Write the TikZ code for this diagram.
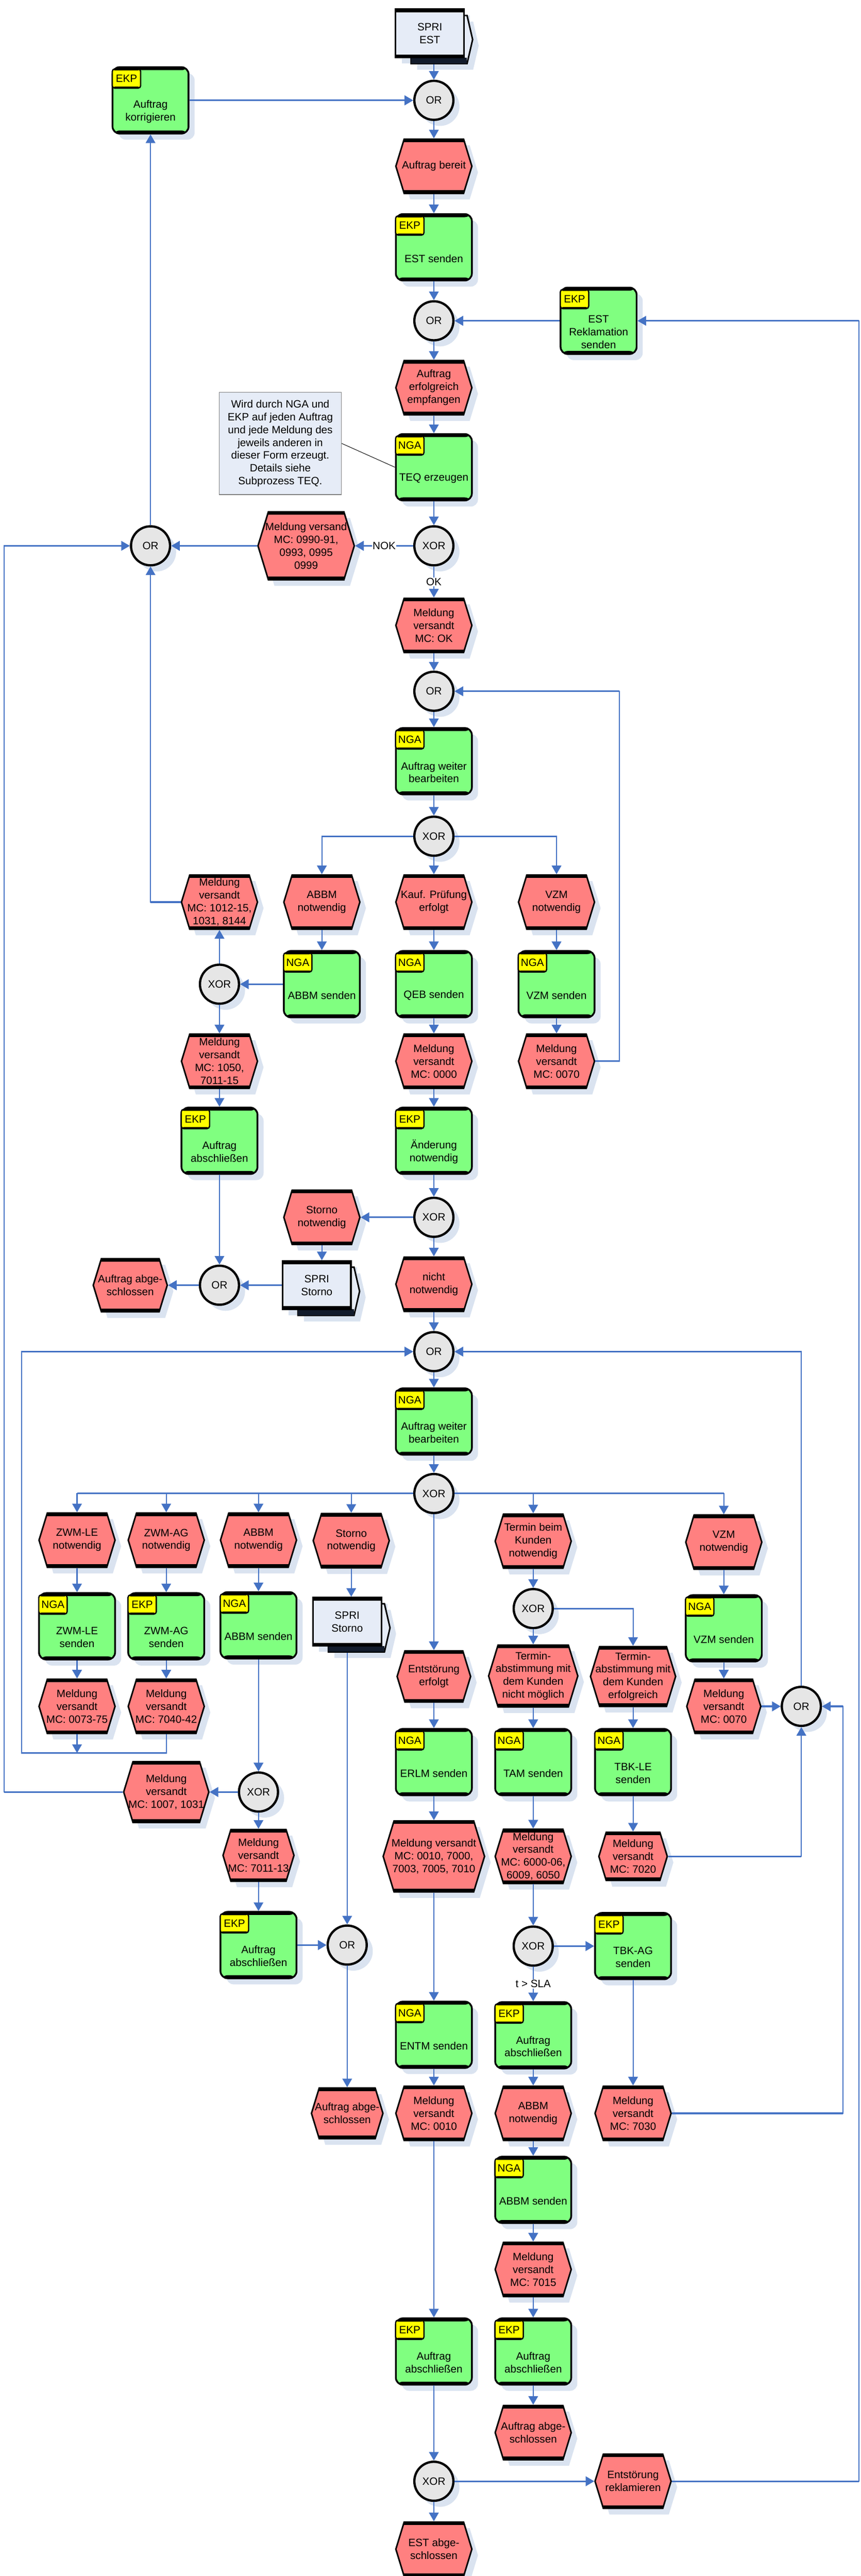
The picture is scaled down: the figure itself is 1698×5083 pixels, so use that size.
\documentclass[tikz,border=0pt]{standalone}
\usepackage{fontspec}
\setmainfont{Liberation Sans}
\usetikzlibrary{shapes.symbols,arrows.meta,calc}
\definecolor{evfill}{HTML}{FF8080}
\definecolor{tkfill}{HTML}{80FF80}
\definecolor{tagfill}{HTML}{FFFF00}
\definecolor{gwfill}{HTML}{E6E6E6}
\definecolor{ifill}{HTML}{E6ECF7}
\definecolor{shcol}{HTML}{DAE3F0}
\definecolor{conncol}{HTML}{4472C4}
\definecolor{ifdark}{HTML}{121B2B}
\newcommand\fs{\fontsize{21}{25.3}\selectfont}
\tikzset{
  bands/.style={path picture={
     \fill[black] (path picture bounding box.north west) rectangle ([yshift=-#1]path picture bounding box.north east);
     \fill[black] (path picture bounding box.south west) rectangle ([yshift=#1]path picture bounding box.south east);}},
  event/.style={signal, signal to=west and east, signal pointer angle=146, draw=black, line width=3pt, fill=evfill, minimum width=150pt, minimum height=107pt, inner sep=0pt, bands=6pt},
  task/.style={rectangle, rounded corners=14pt, draw=black, line width=3.5pt, fill=tkfill, minimum width=150pt, minimum height=131pt, inner sep=0pt, bands=6pt},
  roletag/.style={rectangle, rounded corners=5pt, draw=black, line width=2.5pt, fill=tagfill, minimum width=56pt, minimum height=38pt, inner sep=0pt, font=\fs, anchor=north west, bands=3pt},
  gw/.style={circle, draw=black, line width=4.5pt, fill=gwfill, minimum size=77pt, inner sep=0pt, font=\fs},
  shadowcopy/.style={draw=none, fill=shcol, path picture={}},
  ntext/.style={align=center, font=\fs, inner sep=0pt},
  ifront/.style={rectangle, draw=black, line width=3.5pt, fill=ifill, minimum width=135pt, minimum height=95pt, inner sep=0pt, align=center, font=\fs, bands=6pt},
  ifback/.style={draw=black, line width=3pt, fill=ifill, line join=miter},
  notebox/.style={rectangle, draw=gray, line width=1.5pt, fill=ifill, minimum width=241pt, minimum height=202pt, inner sep=0pt, align=center, font=\fs},
  conn/.style={draw=conncol, line width=2.2pt, -{Triangle[length=17pt,width=19pt]}},
  hconn/.style={conn, line width=3.2pt},
  hseg/.style={draw=conncol, line width=3.2pt},
  lab/.style={fill=white, font=\fs, inner sep=1.5pt},
}
% event: name, x, y, extra options, text
\newcommand\evt[5]{%
  \node[event,#4,shadowcopy] (#1s) at ($(#2,#3)+(12,12)$) {};
  \node[event,#4] (#1) at (#2,#3) {};
  \node[ntext] (#1t) at (#1.center) {#5};}
% task: name, x, y, role, text
\newcommand\tsk[5]{%
  \node[task,shadowcopy] (#1s) at ($(#2,#3)+(12,12)$) {};
  \node[task] (#1) at (#2,#3) {};
  \node[roletag] (#1r) at ([yshift=-4pt]#1.north west) {#4};
  \node[ntext] (#1t) at ([yshift=-22pt]#1.center) {#5};}
% gateway: name, x, y, text
\newcommand\gwy[4]{%
  \node[gw,shadowcopy] (#1s) at ($(#2,#3)+(12,12)$) {};
  \node[gw] (#1) at (#2,#3) {#4};}
% process interface: name, x, y, text
\newcommand\ifc[4]{%
  \fill[shcol] ($(#2,#3)+(-25,-23.5)$) -- ($(#2,#3)+(85.5,-23.5)$) -- ($(#2,#3)+(96.5,24)$) -- ($(#2,#3)+(85.5,71.5)$) -- ($(#2,#3)+(-25,71.5)$) -- cycle;
  \fill[shcol] ($(#2,#3)+(-55.5,-35.5)$) rectangle ($(#2,#3)+(79.5,59.5)$);
  \draw[ifback] ($(#2,#3)+(-37,-35.5)$) -- ($(#2,#3)+(73.5,-35.5)$) -- ($(#2,#3)+(84.5,12)$) -- ($(#2,#3)+(73.5,59.5)$) -- ($(#2,#3)+(-37,59.5)$) -- cycle;
  \fill[ifdark] ($(#2,#3)+(-37,47.5)$) rectangle ($(#2,#3)+(73.5,59.5)$);
  \node[ifront] (#1) at (#2,#3) {#4};}
\begin{document}
\begin{tikzpicture}[x=1pt,y=-1pt]
\path[use as bounding box, fill=white] (0,0) rectangle (1698,5083);

% ---------- upper part ----------
\ifc{if1}{848}{66}{SPRI\\EST}
\gwy{or1}{856}{198}{OR}
\tsk{tk1}{297}{198}{EKP}{Auftrag\\korrigieren}
\evt{ev1}{856}{328}{}{Auftrag bereit}
\tsk{tk2}{856}{488}{EKP}{EST senden}
\gwy{or2}{856}{633}{OR}
\tsk{tk3}{1181}{633}{EKP}{EST\\Reklamation\\senden}
\evt{ev2}{856}{765}{}{Auftrag\\erfolgreich\\empfangen}
\node[notebox] (note) at (553,875) {Wird durch NGA und\\EKP auf jeden Auftrag\\und jede Meldung des\\jeweils anderen in\\dieser Form erzeugt.\\Details siehe\\Subprozess TEQ.};
\tsk{tk4}{856}{922}{NGA}{TEQ erzeugen}
\gwy{xor1}{856}{1077}{XOR}
\evt{ev3}{604}{1077}{minimum width=190pt,minimum height=134pt}{Meldung versand\\MC: 0990-91,\\0993, 0995\\0999}
\gwy{or3}{297}{1077}{OR}
\evt{ev4}{856}{1234}{}{Meldung\\versandt\\MC: OK}
\gwy{or4}{856}{1364}{OR}
\tsk{tk5}{856}{1502}{NGA}{Auftrag weiter\\bearbeiten}
\gwy{xor2}{856}{1650}{XOR}
\evt{ev5}{433}{1780}{}{Meldung\\versandt\\MC: 1012-15,\\1031, 8144}
\evt{ev6}{635}{1780}{}{ABBM\\notwendig}
\evt{ev7}{856}{1780}{}{Kauf. Prüfung\\erfolgt}
\evt{ev8}{1098}{1780}{}{VZM\\notwendig}
\gwy{xor3}{433}{1942}{XOR}
\tsk{tk6}{635}{1942}{NGA}{ABBM senden}
\tsk{tk7}{856}{1942}{NGA}{QEB senden}
\tsk{tk8}{1098}{1942}{NGA}{VZM senden}
\evt{ev9}{433}{2094}{}{Meldung\\versandt\\MC: 1050,\\7011-15}
\evt{ev10}{856}{2094}{}{Meldung\\versandt\\MC: 0000}
\evt{ev11}{1098}{2094}{}{Meldung\\versandt\\MC: 0070}
\tsk{tk9}{433}{2251}{EKP}{Auftrag\\abschließen}
\tsk{tk10}{856}{2251}{EKP}{Änderung\\notwendig}
\gwy{xor4}{856}{2402}{XOR}
\evt{ev12}{635}{2402}{}{Storno\\notwendig}
\ifc{if2}{625}{2536}{SPRI\\Storno}
\gwy{or5}{433}{2536}{OR}
\evt{ev13}{257}{2536}{minimum width=146pt,minimum height=105pt}{Auftrag abge-\\schlossen}
\evt{ev14}{856}{2534}{}{nicht\\notwendig}

% ---------- lower part ----------
\gwy{or6}{856}{2667}{OR}
\tsk{tk11}{856}{2805}{NGA}{Auftrag weiter\\bearbeiten}
\gwy{xor5}{856}{2947}{XOR}
\evt{ev15}{152}{3039}{}{ZWM-LE\\notwendig}
\evt{ev16}{328}{3039}{}{ZWM-AG\\notwendig}
\evt{ev17}{510}{3039}{}{ABBM\\notwendig}
\evt{ev18}{693}{3040}{}{Storno\\notwendig}
\evt{ev19}{1052}{3041}{}{Termin beim\\Kunden\\notwendig}
\evt{ev20}{1428}{3043}{}{VZM\\notwendig}
\tsk{tk12}{152}{3209}{NGA}{ZWM-LE\\senden}
\tsk{tk13}{328}{3209}{EKP}{ZWM-AG\\senden}
\tsk{tk14}{510}{3207}{NGA}{ABBM senden}
\ifc{if3}{685}{3200}{SPRI\\Storno}
\gwy{xor6}{1052}{3174}{XOR}
\tsk{tk15}{1428}{3213}{NGA}{VZM senden}
\evt{ev21}{152}{3367}{}{Meldung\\versandt\\MC: 0073-75}
\evt{ev22}{328}{3367}{}{Meldung\\versandt\\MC: 7040-42}
\evt{ev23}{856}{3308}{minimum width=145pt,minimum height=101pt}{Entstörung\\erfolgt}
\evt{ev24}{1052}{3307}{minimum width=176pt,minimum height=122pt}{Termin-\\abstimmung mit\\dem Kunden\\nicht möglich}
\evt{ev25}{1249}{3308}{minimum width=168pt,minimum height=118pt}{Termin-\\abstimmung mit\\dem Kunden\\erfolgreich}
\evt{ev26}{1428}{3367}{minimum width=146pt}{Meldung\\versandt\\MC: 0070}
\gwy{or7}{1581}{3367}{OR}
\gwy{xor7}{510}{3536}{XOR}
\evt{ev27}{328}{3536}{minimum width=168pt,minimum height=120pt}{Meldung\\versandt\\MC: 1007, 1031}
\tsk{tk16}{856}{3477}{NGA}{ERLM senden}
\tsk{tk17}{1052}{3477}{NGA}{TAM senden}
\tsk{tk18}{1249}{3477}{NGA}{TBK-LE\\senden}
\evt{ev28}{510}{3661}{minimum width=140pt,minimum height=102pt}{Meldung\\versandt\\MC: 7011-13}
\evt{ev29}{856}{3663}{minimum width=200pt,minimum height=140pt}{Meldung versandt\\MC: 0010, 7000,\\7003, 7005, 7010}
\evt{ev30}{1052}{3663}{}{Meldung\\versandt\\MC: 6000-06,\\6009, 6050}
\evt{ev31}{1249}{3663}{minimum width=135pt,minimum height=95pt}{Meldung\\versandt\\MC: 7020}
\tsk{tk19}{510}{3838}{EKP}{Auftrag\\abschließen}
\gwy{or8}{685}{3838}{OR}
\gwy{xor8}{1052}{3840}{XOR}
\tsk{tk20}{1249}{3840}{EKP}{TBK-AG\\senden}
\tsk{tk21}{856}{4015}{NGA}{ENTM senden}
\tsk{tk22}{1052}{4016}{EKP}{Auftrag\\abschließen}
\evt{ev32}{685}{4170}{minimum width=141pt,minimum height=100pt}{Auftrag abge-\\schlossen}
\evt{ev33}{856}{4170}{}{Meldung\\versandt\\MC: 0010}
\evt{ev34}{1052}{4170}{}{ABBM\\notwendig}
\evt{ev35}{1249}{4170}{}{Meldung\\versandt\\MC: 7030}
\tsk{tk23}{1052}{4321}{NGA}{ABBM senden}
\evt{ev36}{1052}{4478}{}{Meldung\\versandt\\MC: 7015}
\tsk{tk24}{856}{4640}{EKP}{Auftrag\\abschließen}
\tsk{tk25}{1052}{4640}{EKP}{Auftrag\\abschließen}
\evt{ev37}{1052}{4800}{}{Auftrag abge-\\schlossen}
\gwy{xor9}{856}{4896}{XOR}
\evt{ev38}{1249}{4896}{}{Entstörung\\reklamieren}
\evt{ev39}{856}{5030}{}{EST abge-\\schlossen}

% rail corner points
\coordinate (railR) at (1695,4896);
\coordinate (railL) at (8,3536);
\coordinate (railL2) at (43,3459);
\coordinate (railR2) at (1663,4170);
\coordinate (railB) at (1222,2094);
\coordinate (j1) at (152,3459);

% ---------- heavier horizontal segments of bent connectors ----------
\draw[hseg] (ev5.west) -- (or3 |- ev5);
\draw[hseg] (ev11.east) -- (railB);
\draw[hseg, shorten >=10pt] (railB |- or4) -- (or4.east);
\draw[hseg] (xor2.west) -- (ev6 |- xor2);
\draw[hseg] (xor2.east) -- (ev8 |- xor2);
\draw[hseg] (xor5.west) -- (ev15 |- xor5);
\draw[hseg] (xor5.east) -- (ev20 |- xor5);
\draw[hseg] (ev22 |- railL2) -- (railL2);
\draw[hseg, shorten >=10pt] (railL2 |- or6) -- (or6.west);
\draw[hseg] (xor6.east) -- (ev25 |- xor6);
\draw[hseg, shorten >=10pt] (or7 |- or6) -- (or6.east);
\draw[hseg] (ev27.west) -- (railL);
\draw[hseg, shorten >=10pt] (railL |- or3) -- (or3.west);
\draw[hseg] (ev31.east) -- (or7 |- ev31);
\draw[hseg] (ev35.east) -- (railR2);
\draw[hseg, shorten >=10pt] (railR2 |- or7) -- (or7.east);
\draw[hseg] (ev38.east) -- (railR);
\draw[hseg, shorten >=10pt] (railR |- tk3) -- (tk3.east);

% ---------- connectors ----------
\draw[black, line width=1pt] (note.east) -- (tk4.west);
\draw[conn] ($(if1.south -| or1)+(0,12)$) -- (or1);
\draw[hconn] (tk1) -- (or1);
\draw[conn] (or1) -- (ev1);
\draw[conn] (ev1) -- (tk2);
\draw[conn] (tk2) -- (or2);
\draw[hconn] (tk3) -- (or2);
\draw[conn] (or2) -- (ev2);
\draw[conn] (ev2) -- (tk4);
\draw[conn] (tk4) -- (xor1);
\draw[hconn] (xor1) -- node[lab] (lnok) {NOK} (ev3);
\draw[hconn] (ev3) -- (or3);
\draw[conn] (or3) -- (tk1);
\draw[conn] (xor1) -- node[lab] (lok) {OK} (ev4);
\draw[conn] (ev4) -- (or4);
\draw[conn] (or4) -- (tk5);
\draw[conn] (tk5) -- (xor2);
\draw[conn] (xor2) -| (ev6);
\draw[conn] (xor2) -- (ev7);
\draw[conn] (xor2) -| (ev8);
\draw[conn] (ev6) -- (tk6);
\draw[conn] (ev7) -- (tk7);
\draw[conn] (ev8) -- (tk8);
\draw[hconn] (tk6) -- (xor3);
\draw[conn] (xor3) -- (ev5);
\draw[conn] (ev5.west) -| (or3.south);
\draw[conn] (xor3) -- (ev9);
\draw[conn] (tk7) -- (ev10);
\draw[conn] (tk8) -- (ev11);
\draw[conn] (ev11.east) -- (railB) |- (or4.east);
\draw[conn] (ev9) -- (tk9);
\draw[conn] (tk9) -- (or5);
\draw[conn] (ev10) -- (tk10);
\draw[conn] (tk10) -- (xor4);
\draw[hconn] (xor4) -- (ev12);
\draw[conn] (xor4) -- (ev14);
\draw[conn] (ev12) -- (ev12 |- if2.north);
\draw[hconn] (if2) -- (or5);
\draw[hconn] (or5) -- (ev13);
\draw[conn] (ev14) -- (or6);
\draw[conn] (or6) -- (tk11);
\draw[conn] (tk11) -- (xor5);
\draw[conn] (xor5) -| (ev15);
\draw[conn] (xor5) -| (ev16);
\draw[conn] (xor5) -| (ev17);
\draw[conn] (xor5) -| (ev18);
\draw[conn] (xor5) -| (ev19);
\draw[conn] (xor5) -| (ev20);
\draw[conn] (xor5) -- (ev23);
\draw[conn] (ev15) -- (tk12);
\draw[conn] (ev16) -- (tk13);
\draw[conn] (ev17) -- (tk14);
\draw[conn] (ev18) -- (ev18 |- if3.north);
\draw[conn] (ev19) -- (xor6);
\draw[conn] (ev20) -- (tk15);
\draw[conn] (tk12) -- (ev21);
\draw[conn] (tk13) -- (ev22);
\draw[conn] (ev21) -- (j1);
\draw[conn] (ev22.south) |- (railL2) |- (or6.west);
\draw[conn] (tk14) -- (xor7);
\draw[conn] ($(if3.south)+(0,12)$) -- (or8);
\draw[conn] (xor6) -- (ev24);
\draw[conn] (xor6.east) -| (ev25.north);
\draw[conn] (tk15) -- (ev26);
\draw[hconn] (ev26) -- (or7);
\draw[conn] (or7.north) |- (or6.east);
\draw[hconn] (xor7) -- (ev27);
\draw[conn] (ev27.west) -- (railL) |- (or3.west);
\draw[conn] (xor7) -- (ev28);
\draw[conn] (ev28) -- (tk19);
\draw[hconn] (tk19) -- (or8);
\draw[conn] (or8) -- (ev32);
\draw[conn] (ev23) -- (tk16);
\draw[conn] (ev24) -- (tk17);
\draw[conn] (ev25) -- (tk18);
\draw[conn] (tk16) -- (ev29);
\draw[conn] (tk17) -- (ev30);
\draw[conn] (tk18) -- (ev31);
\draw[conn] (ev31.east) -| (or7.south);
\draw[conn] (ev29) -- (tk21);
\draw[conn] (ev30) -- (xor8);
\draw[hconn] (xor8) -- (tk20);
\draw[conn] (xor8) -- node[lab] (lsla) {t > SLA} (tk22);
\draw[conn] (tk20) -- (ev35);
\draw[conn] (ev35.east) -- (railR2) |- (or7.east);
\draw[conn] (tk21) -- (ev33);
\draw[conn] (tk22) -- (ev34);
\draw[conn] (ev34) -- (tk23);
\draw[conn] (tk23) -- (ev36);
\draw[conn] (ev36) -- (tk25);
\draw[conn] (tk25) -- (ev37);
\draw[conn] (ev33) -- (tk24);
\draw[conn] (tk24) -- (xor9);
\draw[hconn] (xor9) -- (ev38);
\draw[conn] (xor9) -- (ev39);
\draw[conn] (ev38.east) -- (railR) |- (tk3.east);
\end{tikzpicture}
\end{document}
